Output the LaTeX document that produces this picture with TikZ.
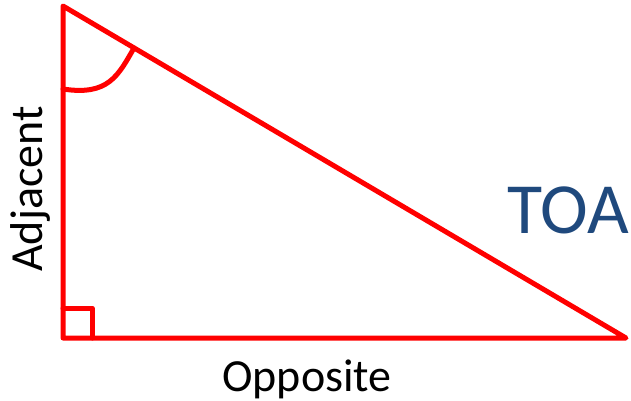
\documentclass[tikz,border=0pt]{standalone}
\usepackage{fontspec}
\setmainfont{Carlito}
\usetikzlibrary{positioning}
\definecolor{sidered}{RGB}{255, 0, 0}
\definecolor{toablue}{RGB}{31, 73, 125}

\begin{document}
\begin{tikzpicture}[
        x=1pt, y=-1pt,
        side/.style={draw=sidered, line width=5pt, line join=round, line cap=round},
        lbl/.style={inner sep=0pt, font=\fontsize{46}{46}\selectfont, text=black},
        ratio/.style={inner sep=0pt, font=\fontsize{72}{72}\selectfont, text=toablue}
      ]
        \useasboundingbox (0,0) rectangle (631,401);

        \coordinate (T) at (63,6);
        \coordinate (L) at (63,338);
        \coordinate (R) at (626,338);

        \draw[side] (T) -- (L) -- (R) -- cycle;
        \draw[side] (63,308) -- (92,308) -- (92,338);
        \draw[side] (63,89) .. controls (108,96) and (118,76) .. (134,48);

        \node[lbl, anchor=base] (opp) at (307,391) {Opposite};
        \node[lbl, anchor=base, rotate=90] (adj) at (42,189) {Adjacent};
        \node[ratio, anchor=base] (toa) at (568,233) {TOA};
      \end{tikzpicture}
\end{document}
